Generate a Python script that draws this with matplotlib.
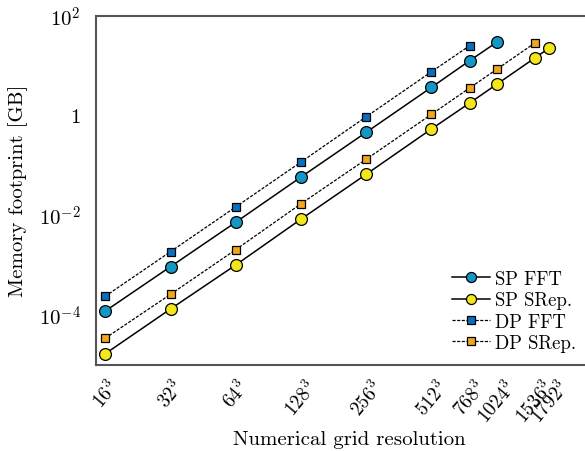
import numpy as np
import matplotlib
matplotlib.use("Agg")
import matplotlib.pyplot as plt

plt.rcParams['font.family'] = 'serif'
plt.rcParams['font.serif'] = ['cmr10']
plt.rcParams['mathtext.fontset'] = 'cm'
plt.rcParams['axes.unicode_minus'] = False
plt.rcParams['axes.formatter.use_mathtext'] = True

# grid sizes (N for N^3) and memory in GB
n_sp_fft = [16, 32, 64, 128, 256, 512, 768, 1024]
sp_fft = [1.19e-4, 9.25e-4, 7.2e-3, 0.058, 0.458, 3.66, 12.5, 29.3]

n_sp_srep = [16, 32, 64, 128, 256, 512, 768, 1024, 1536, 1792]
sp_srep = [1.66e-5, 1.31e-4, 1.0e-3, 8.3e-3, 0.066, 0.535, 1.77, 4.2, 14.2, 22.5]

n_dp_fft = [16, 32, 64, 128, 256, 512, 768]
dp_fft = [2.36e-4, 1.85e-3, 0.0146, 0.116, 0.94, 7.5, 25.0]

n_dp_srep = [16, 32, 64, 128, 256, 512, 768, 1024, 1536]
dp_srep = [3.4e-5, 2.58e-4, 2.03e-3, 0.0169, 0.132, 1.05, 3.55, 8.4, 28.3]

xticks = [16, 32, 64, 128, 256, 512, 768, 1024, 1536, 1792]
yticks = [1e-4, 1e-2, 1, 1e2]
ytick_labels = [r'$10^{-4}$', r'$10^{-2}$', r'$1$', r'$10^{2}$']

c_sp_fft = '#1597c5'
c_dp_fft = '#0b6fbf'
c_sp_srep = '#f3e71b'
c_dp_srep = '#f0a71e'

fig = plt.figure(figsize=(5.85, 4.52), dpi=100)
ax = fig.add_axes([96 / 585, 1 - 365.7 / 452, 1.005 - 96 / 585, (365.7 - 16.7) / 452])

dash = (0, (2.5, 1.2))
ax.plot(n_sp_fft, sp_fft, '-', color='k', lw=1.1, marker='o', ms=8.5,
        mfc=c_sp_fft, mec='k', mew=0.9, label='SP FFT')
ax.plot(n_sp_srep, sp_srep, '-', color='k', lw=1.1, marker='o', ms=8.5,
        mfc=c_sp_srep, mec='k', mew=0.9, label='SP SRep.')
ax.plot(n_dp_fft, dp_fft, linestyle=dash, color='k', lw=0.9, marker='s', ms=6,
        mfc=c_dp_fft, mec='k', mew=0.9, label='DP FFT')
ax.plot(n_dp_srep, dp_srep, linestyle=dash, color='k', lw=0.9, marker='s', ms=6,
        mfc=c_dp_srep, mec='k', mew=0.9, label='DP SRep.')

ax.set_xscale('log', base=2)
ax.set_yscale('log')
ax.set_xlim(14.5, 2700)
ax.set_ylim(1e-5, 1e2)

ax.set_xticks(xticks)
ax.set_xticklabels([r'$%d^3$' % n for n in xticks], rotation=50,
                   ha='center', va='top', fontsize=14)
ax.xaxis.set_minor_locator(matplotlib.ticker.NullLocator())
ax.set_yticks(yticks)
ax.set_yticklabels(ytick_labels, fontsize=15)
ax.yaxis.set_minor_locator(matplotlib.ticker.NullLocator())
ax.tick_params(axis='y', length=0, pad=11)
ax.tick_params(axis='x', length=0, pad=8)

for s in ax.spines.values():
    s.set_color('#555555')
    s.set_linewidth(1.5)

ax.set_xlabel('Numerical grid resolution', fontsize=15)
ax.xaxis.set_label_coords(0.514, -0.213)
ax.xaxis.label.set_va('center')
ax.set_ylabel('Memory footprint [GB]', fontsize=15)
ax.yaxis.set_label_coords(-0.159, 0.5)
ax.yaxis.label.set_va('center')

ax.legend(loc='lower right', frameon=False, fontsize=13.5, handlelength=2.0,
          handletextpad=0.25, labelspacing=0.18, borderaxespad=0, markerscale=0.85,
          bbox_to_anchor=(0.99, 0.015))

fig.savefig('out.png', dpi=100)
